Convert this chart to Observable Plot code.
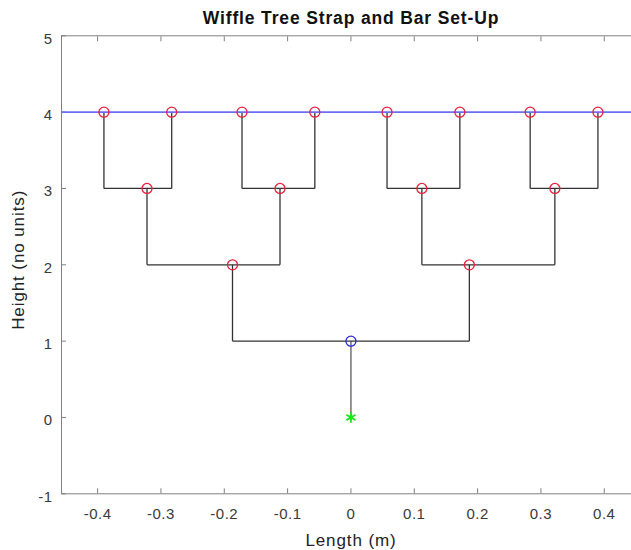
<!DOCTYPE html>
<html><head><meta charset="utf-8">
<script src="https://cdn.jsdelivr.net/npm/d3@7"></script>
<script src="https://cdn.jsdelivr.net/npm/@observablehq/plot@0.6"></script>
<style>html,body{margin:0;padding:0;background:#fff;overflow:hidden}</style>
</head><body><div id="chart"></div>
<script>
const title = "Wiffle Tree Strap and Bar Set-Up";
const xLabel = "Length (m)";
const yLabel = "Height (no units)";
const xTicks = [-0.4, -0.3, -0.2, -0.1, 0, 0.1, 0.2, 0.3, 0.4];
const xTickLabels = ["-0.4", "-0.3", "-0.2", "-0.1", "0", "0.1", "0.2", "0.3", "0.4"];
const yTicks = [-1, 0, 1, 2, 3, 4, 5];
const yTickLabels = ["-1", "0", "1", "2", "3", "4", "5"];
const xDomain = [-0.457, 0.443];
const yDomain = [-1, 5];

// node positions
const leafX = [-0.39, -0.283, -0.172, -0.057, 0.057, 0.172, 0.283, 0.39];
const leafY = 4;
const level3X = [-0.322, -0.112, 0.112, 0.322];
const level3Y = 3;
const level2X = [-0.187, 0.187];
const level2Y = 2;
const rootX = [0];
const rootY = 1;
const anchorX = [0];
const anchorY = 0;
const strapY = 4;

function barsAndHangers(parents, parentY, children, childY) {
  const segs = [];
  parents.forEach((p, i) => {
    const a = children[2 * i], b = children[2 * i + 1];
    segs.push({x1: a, y1: parentY, x2: b, y2: parentY});
    segs.push({x1: a, y1: parentY, x2: a, y2: childY});
    segs.push({x1: b, y1: parentY, x2: b, y2: childY});
  });
  return segs;
}
const treeSegs = [
  ...barsAndHangers(rootX, rootY, level2X, level2Y),
  ...barsAndHangers(level2X, level2Y, level3X, level3Y),
  ...barsAndHangers(level3X, level3Y, leafX, leafY)
];
const strapSegs = [{x1: anchorX[0], y1: anchorY, x2: rootX[0], y2: rootY}];
const redNodes = [
  ...leafX.map(x => ({x, y: leafY})),
  ...level3X.map(x => ({x, y: level3Y})),
  ...level2X.map(x => ({x, y: level2Y}))
];
const blueNodes = rootX.map(x => ({x, y: rootY}));
const greenNodes = anchorX.map(x => ({x, y: anchorY}));

const axisColor = "#808080";
const chart = Plot.plot({
  width: 631,
  height: 550,
  marginLeft: 61,
  marginRight: 0,
  marginTop: 35.3,
  marginBottom: 56.7,
  style: {fontFamily: "'Liberation Sans', Arial, Helvetica, sans-serif", background: "#fff"},
  x: {domain: xDomain},
  y: {domain: yDomain},
  marks: [
    Plot.ruleY([yDomain[0], yDomain[1]], {stroke: axisColor, strokeWidth: 1}),
    Plot.ruleX([xDomain[0]], {stroke: axisColor, strokeWidth: 1}),
    Plot.axisX(xTicks, {anchor: "bottom", tickSize: 5, dy: -5, tickFormat: () => "", stroke: axisColor}),
    Plot.axisX(xTicks, {anchor: "top", tickSize: 5, dy: 5, tickFormat: () => "", stroke: axisColor}),
    Plot.axisX(xTicks, {anchor: "bottom", tickSize: 0, tickPadding: 15, tickFormat: (d, i) => xTickLabels[i], fontSize: 15, fill: "#3a3a3a", label: null}),
    Plot.axisY(yTicks, {anchor: "left", tickSize: 5, dx: 5, tickFormat: () => "", stroke: axisColor}),
    Plot.axisY(yTicks, {anchor: "left", tickSize: 0, tickPadding: 9, dy: 3, tickFormat: (d, i) => yTickLabels[i], fontSize: 15, fill: "#3a3a3a", label: null}),
    Plot.link(strapSegs, {x1: "x1", y1: "y1", x2: "x2", y2: "y2", stroke: "#7a7a7a", strokeWidth: 1.6}),
    Plot.link(treeSegs, {x1: "x1", y1: "y1", x2: "x2", y2: "y2", stroke: "#333", strokeWidth: 1.3}),
    Plot.ruleY([strapY], {stroke: "#6e6ef0", strokeWidth: 1.8}),
    Plot.dot(redNodes, {x: "x", y: "y", r: 5, stroke: "#e8213c", strokeWidth: 1.3, fill: "none"}),
    Plot.dot(blueNodes, {x: "x", y: "y", r: 5, stroke: "#2a2ad0", strokeWidth: 1.3, fill: "none"}),
    Plot.dot(greenNodes, {x: "x", y: "y", r: 5, symbol: "asterisk", stroke: "#22e022", strokeWidth: 1.8}),
    Plot.text([title], {frameAnchor: "top", lineAnchor: "middle", textAnchor: "middle", dx: 4.5, dy: -17, fontSize: 17.5, fontWeight: "bold", fill: "#111"}),
    Plot.text([xLabel], {frameAnchor: "bottom", lineAnchor: "middle", textAnchor: "middle", dx: 4.5, dy: 46.5, fontSize: 17, fill: "#222"}),
    Plot.text([yLabel], {frameAnchor: "left", lineAnchor: "middle", textAnchor: "middle", dx: -43, dy: -5, rotate: -90, fontSize: 17, fill: "#222"})
  ]
});
d3.select(chart).selectAll("text").each(function() {
  const t = this.textContent;
  this.setAttribute("letter-spacing", t === title ? "0.85px" : (t === xLabel || t === yLabel) ? "0.9px" : "0.5px");
});
document.getElementById("chart").appendChild(chart);
</script>
</body></html>
